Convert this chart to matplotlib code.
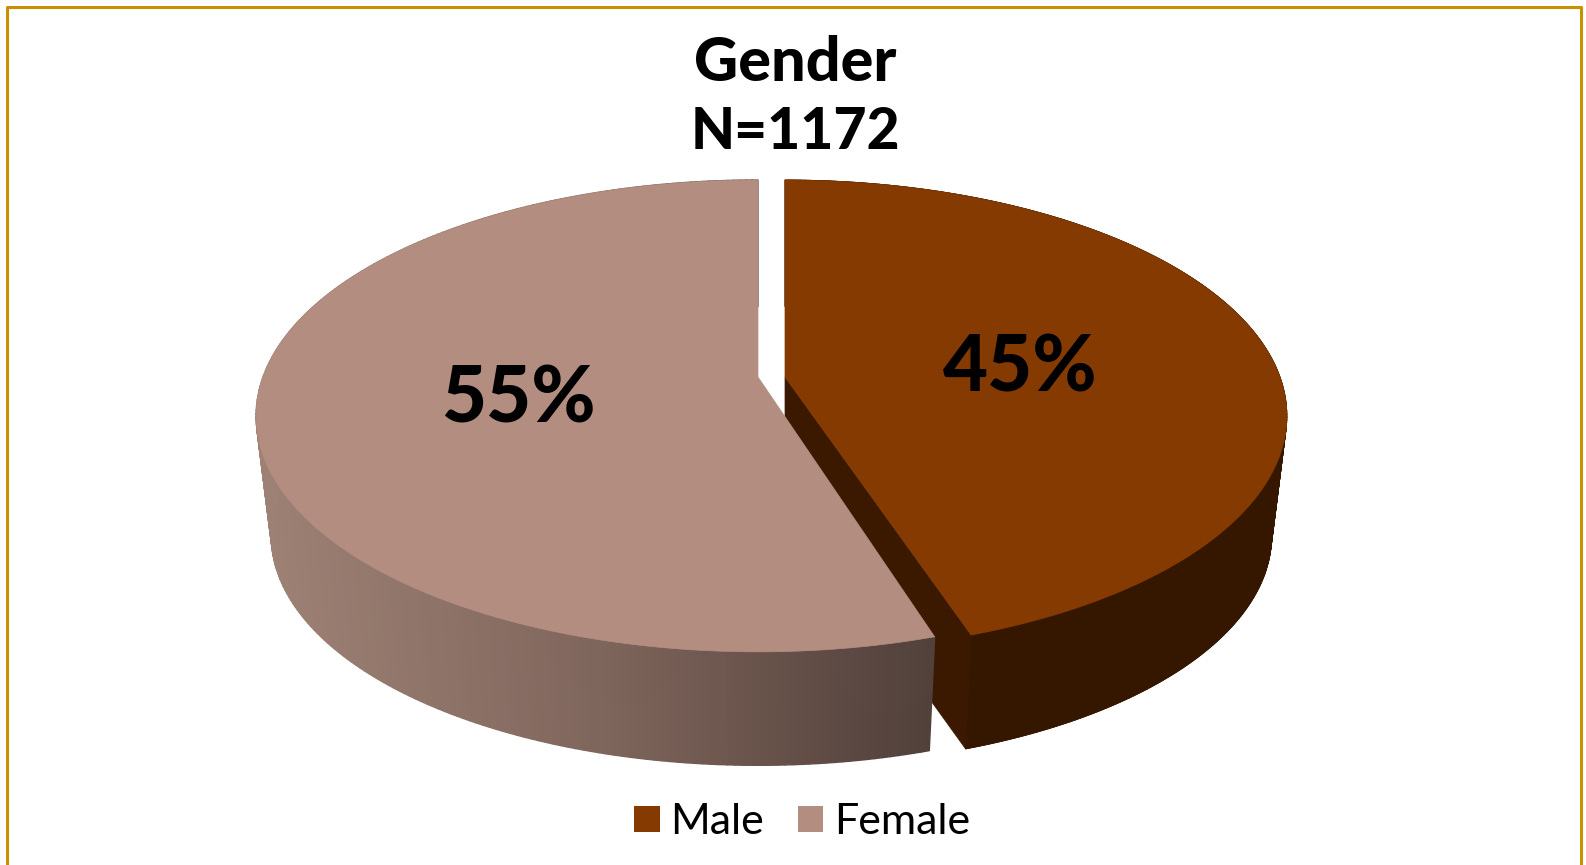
import numpy as np
import matplotlib
matplotlib.use("Agg")
import matplotlib.pyplot as plt
from matplotlib.collections import PolyCollection
from matplotlib.colors import LinearSegmentedColormap
from matplotlib.patches import Patch, Polygon

title_lines = ["Gender", "N=1172"]
labels = ["Male", "Female"]
values = [45, 55]
top_colors = ["#843A00", "#B38E80"]
male_side = "#351700"
male_cut = "#3A1900"
female_side = ["#9E8175", "#7F665C", "#52403B"]
border_color = "#C79100"

WIDTH, HEIGHT = 1586, 865
K = 0.165
TOP_A, TOP_B, TOP_Y = 495, 229.5, 377
LOW_A, LOW_B, LOW_Y = 480, 223.2, 498
CENTER_X = [785, 758]
GAP_DEG = 0.5


def project(theta, cx, a, b, y0):
    # theta in degrees, clockwise from 12 o'clock, on the perspective disc
    u = np.sin(np.radians(theta))
    v = np.cos(np.radians(theta))
    w = 1 + K * v
    return cx + a * u / w, y0 - b * v / w


def top_face(start, end, cx):
    t = np.linspace(start, end, 300)
    x, y = project(t, cx, TOP_A, TOP_B, TOP_Y)
    pts = np.column_stack([x, y])
    return np.vstack([[cx, TOP_Y], pts])


def side_outline(start, end, cx):
    t = np.linspace(start, end, 300)
    xt, yt = project(t, cx, TOP_A, TOP_B, TOP_Y)
    xb, yb = project(t, cx, LOW_A, LOW_B, LOW_Y)
    return np.vstack([np.column_stack([xt, yt]), np.column_stack([xb, yb])[::-1]])


def side_strips(start, end, cx):
    t = np.linspace(start, end, 241)
    xt, yt = project(t, cx, TOP_A, TOP_B, TOP_Y)
    xb, yb = project(t, cx, LOW_A, LOW_B, LOW_Y)
    strips = []
    for i in range(len(t) - 1):
        strips.append([(xt[i], yt[i]), (xt[i + 1], yt[i + 1]),
                       (xb[i + 1], yb[i + 1]), (xb[i], yb[i])])
    mids = (xt[:-1] + xt[1:]) / 2
    return strips, mids


fig = plt.figure(figsize=(WIDTH / 100, HEIGHT / 100), dpi=100, facecolor="white")
ax = fig.add_axes([0, 0, 1, 1])
ax.set_xlim(0, WIDTH)
ax.set_ylim(HEIGHT, 0)
ax.axis("off")

# open bottom frame
ax.plot([7, 7, 1581, 1581], [HEIGHT + 5, 7, 7, HEIGHT + 5], color=border_color, lw=2.2)

edges = np.concatenate([[0], np.cumsum(values)]) * 360 / sum(values)

# male slice first, the female slice sits in front of it
male_start, male_end = edges[0], edges[1] - GAP_DEG
cx = CENTER_X[0]
strips, _ = side_strips(male_start, male_end, cx)
ax.add_collection(PolyCollection(strips, facecolors=male_side, edgecolors=male_side, linewidths=0.6))
# solid fill over the strips hides the seams between them
ax.add_patch(Polygon(side_outline(male_start, male_end, cx), facecolor=male_side, edgecolor=male_side, lw=0.5))
xt, yt = project(male_end, cx, TOP_A, TOP_B, TOP_Y)
xb, yb = project(male_end, cx, LOW_A, LOW_B, LOW_Y)
ax.add_patch(Polygon([(cx, TOP_Y), (xt, yt), (xb, yb), (cx, LOW_Y)], facecolor=male_cut, edgecolor=male_cut, lw=0.5))
ax.add_patch(Polygon(top_face(male_start, male_end, cx), facecolor=top_colors[0], edgecolor=top_colors[0], lw=0.5))

female_start, female_end = edges[1] + GAP_DEG, edges[2]
cx = CENTER_X[1]
strips, mids = side_strips(female_start, female_end, cx)
cmap = LinearSegmentedColormap.from_list("female_side", female_side)
shades = cmap((mids - mids.min()) / (mids.max() - mids.min()))
ax.add_collection(PolyCollection(strips, facecolors=shades, edgecolors=shades, linewidths=1.0))
ax.add_patch(Polygon(top_face(female_start, female_end, cx), facecolor=top_colors[1], edgecolor=top_colors[1], lw=0.5))

ax.text(1020, 369, f"{values[0]}%", fontsize=56, fontweight="black", family="Lato", ha="center", va="center")
ax.text(518, 400, f"{values[1]}%", fontsize=56, fontweight="black", family="Lato", ha="center", va="center")

ax.text(795, 81, title_lines[0], fontsize=44, fontweight="black", family="Lato", ha="center", va="baseline")
ax.text(795, 149, title_lines[1], fontsize=41, fontweight="black", family="Lato", ha="center", va="baseline")

handles = [Patch(facecolor=c, edgecolor="none") for c in top_colors]
ax.legend(handles, labels, ncol=2, frameon=False, loc="center",
          bbox_to_anchor=(802, 822), bbox_transform=ax.transData,
          prop={"family": "Lato", "size": 31},
          handlelength=0.6, handleheight=0.546, handletextpad=0.24, columnspacing=0.78)

fig.savefig("out.png", dpi=100)
